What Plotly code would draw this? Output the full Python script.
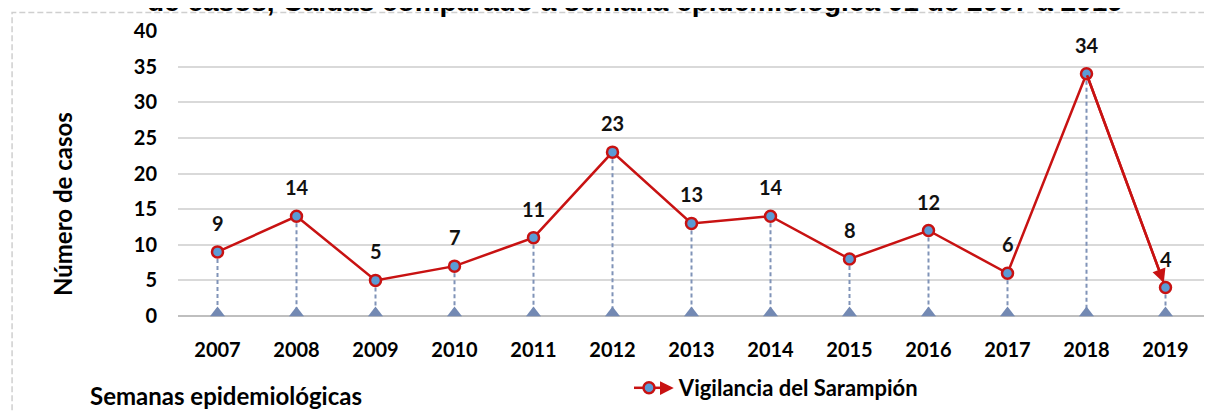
import plotly.graph_objects as go

years = [2007, 2008, 2009, 2010, 2011, 2012, 2013, 2014, 2015, 2016, 2017, 2018, 2019]
cases = [9, 14, 5, 7, 11, 23, 13, 14, 8, 12, 6, 34, 4]
year_labels = [str(y) for y in years]
y_ticks = [0, 5, 10, 15, 20, 25, 30, 35, 40]

title_text = "de casos, Caldas comparado a semana epidemiológica 01 de 2007 a 2019"
series_name = "Vigilancia del Sarampión"
y_title = "Número de casos"
x_title = "Semanas epidemiológicas"

# page body has an 8px margin: work in screen pixels and convert
OFF = 8
W, H = 1212 - OFF, 411 - OFF
PL, PR, PT, PB = 178, 1205.5, 31, 316  # plot area in screen px
ML, MR, MT, MB = PL - OFF, W - (PR - OFF), PT - OFF, H - (PB - OFF)
PW = W - ML - MR
PH = H - MT - MB

def px_x(sx):
    return (sx - OFF - ML) / PW

def px_y(sy):
    return (H - MB - (sy - OFF)) / PH

def cx(sx):
    return (sx - OFF) / W

def cy(sy):
    return (H - (sy - OFF)) / H

RED = "#c81212"
BLUE = "#5b9bd5"
DROP = "#8093b8"
TRI = "#7389b3"
FONT = "Lato"

fig = go.Figure()

# drop lines
dx, dy = [], []
for x, v in zip(years, cases):
    dx += [x, x, None]
    dy += [v, 0, None]
fig.add_trace(go.Scatter(x=dx, y=dy, mode="lines", showlegend=False, hoverinfo="skip",
                         line=dict(color=DROP, width=2, dash="4px,3px")))
# base triangles (triangle-down rotated 180 = pointing up, lifted onto the axis)
fig.add_trace(go.Scatter(x=years, y=[0] * len(years), mode="markers", showlegend=False,
                         hoverinfo="skip", cliponaxis=False,
                         marker=dict(symbol="triangle-down", size=13, color=TRI,
                                     angle=180, standoff=3, line=dict(width=0))))
# main series
fig.add_trace(go.Scatter(x=years, y=cases, mode="lines+markers", name="\u00a0" * 2 + series_name,
                         cliponaxis=False,
                         line=dict(color=RED, width=2.5),
                         marker=dict(symbol="circle", size=11, color=BLUE,
                                     line=dict(color=RED, width=2.5))))

annotations = []
for x, v in zip(years, cases):
    annotations.append(dict(x=x, y=v, xref="x", yref="y", text=str(v), showarrow=False,
                            yshift=29, font=dict(family=FONT, size=20, color="#111111", weight="bold")))
# arrow on last segment
annotations.append(dict(x=years[-1], y=cases[-1], ax=years[-2], ay=cases[-2], xref="x", yref="y",
                        axref="x", ayref="y", text="", showarrow=True, arrowhead=2, arrowsize=1.1,
                        arrowwidth=2.5, arrowcolor=RED, standoff=5))
# title (cut off at top of frame)
annotations.append(dict(x=px_x(635), y=px_y(19), xref="paper", yref="paper", xanchor="center",
                        yanchor="bottom", text=title_text, showarrow=False,
                        font=dict(family="Liberation Sans", size=28, color="black", weight="bold")))
# y title
annotations.append(dict(x=px_x(62), y=px_y(204), xref="paper", yref="paper", textangle=-90,
                        xanchor="center", yanchor="middle", text=y_title, showarrow=False,
                        font=dict(family=FONT, size=24, color="black", weight="bold")))
# x title
annotations.append(dict(x=px_x(88), y=px_y(395), xref="paper", yref="paper", xanchor="left",
                        yanchor="middle", text=x_title, showarrow=False,
                        font=dict(family=FONT, size=24, color="black", weight="bold")))
# legend arrowhead
annotations.append(dict(x=px_x(674), y=px_y(388), ax=-14, ay=0, xref="paper", yref="paper",
                        text="", showarrow=True, arrowhead=2, arrowsize=1.1, arrowwidth=2.5,
                        arrowcolor=RED))

fig.update_layout(
    template="none",
    width=W, height=H, autosize=False,
    margin=dict(l=ML, r=MR, t=MT, b=MB, pad=0),
    paper_bgcolor="white", plot_bgcolor="white",
    font=dict(family=FONT, color="black"),
    showlegend=True,
    legend=dict(orientation="h", xref="container", yref="container", x=cx(629), y=cy(388),
                xanchor="left", yanchor="middle",
                bgcolor="rgba(0,0,0,0)", font=dict(family=FONT, size=22, color="black", weight="bold")),
    annotations=annotations,
    shapes=[dict(type="rect", xref="paper", yref="paper", x0=px_x(12), x1=1.1, y0=-0.5, y1=px_y(12.5),
                 line=dict(color="#cfcfcf", width=1.5, dash="6px,3px"), layer="below")],
)
fig.update_xaxes(range=[2006.5, 2019.5], tickvals=years, ticktext=year_labels, automargin=False,
                 showgrid=False, zeroline=False, showline=False, ticks="",
                 ticklabelstandoff=20,
                 tickfont=dict(family=FONT, size=20, color="black", weight="bold"))
fig.update_yaxes(range=[0, 40], tickvals=y_ticks, showgrid=True, gridcolor="#d9d9d9", gridwidth=2,
                 automargin=False,
                 zeroline=True, zerolinecolor="#bfbfbf", zerolinewidth=2, showline=False, ticks="",
                 ticklabelstandoff=20,
                 tickfont=dict(family=FONT, size=20, color="black", weight="bold"))

fig.write_html("out.html")
